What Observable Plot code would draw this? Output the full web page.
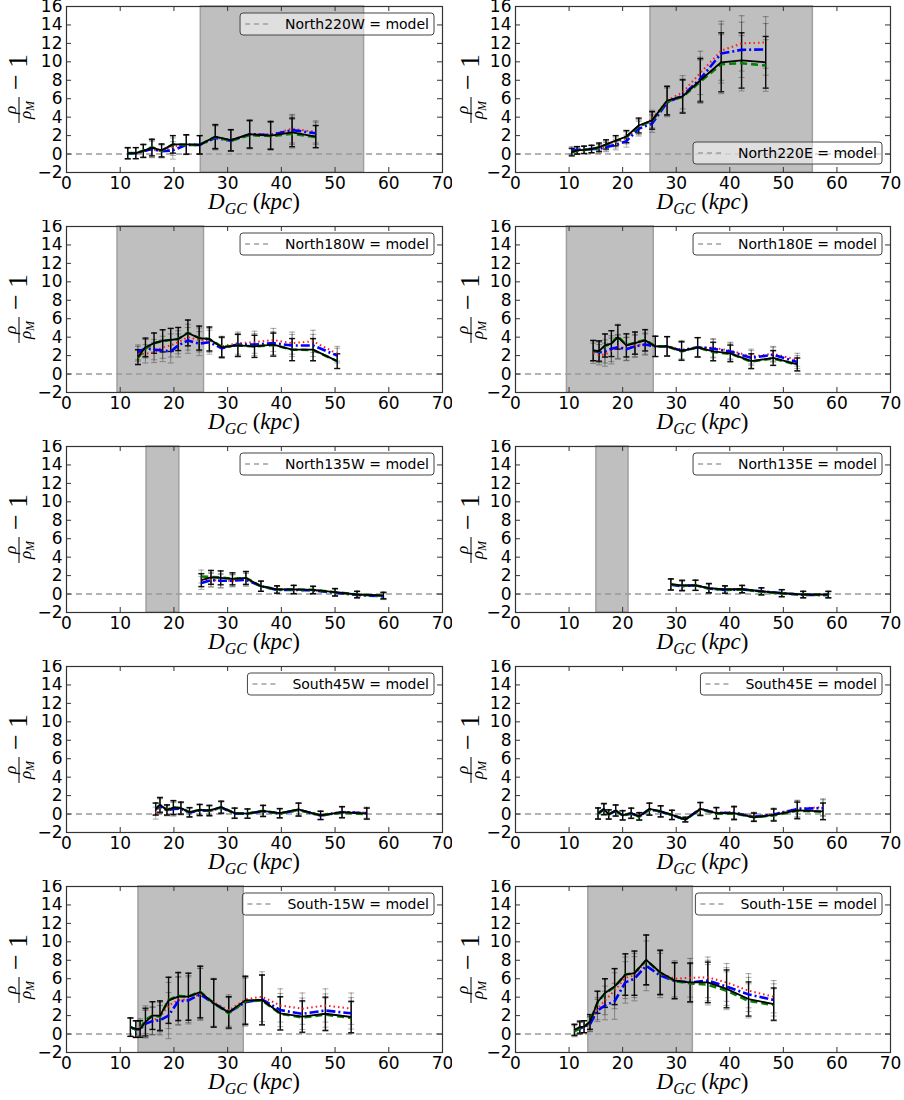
<!DOCTYPE html>
<html><head><meta charset="utf-8">
<script src="https://cdn.jsdelivr.net/npm/d3@7"></script>
<script src="https://cdn.jsdelivr.net/npm/@observablehq/plot@0.6"></script>
<style>
body{margin:0;background:#fff;}
#grid{display:grid;grid-template-columns:452px 452px;grid-auto-rows:220px;width:904px;}
#grid svg{display:block;}
</style></head><body><div id="grid"></div>
<script>
// ---- axis ticks ----
const xTicks = [0, 10, 20, 30, 40, 50, 60, 70];
const yTicks = [-2, 0, 2, 4, 6, 8, 10, 12, 14, 16];

// ---- panel names, legend placement, shaded ranges ----
const panelNames = ["North220W", "North220E", "North180W", "North180E", "North135W", "North135E", "South45W", "South45E", "South-15W", "South-15E"];
const legendPlace = ["top", "bottom", "top", "top", "top", "top", "top", "top", "top", "top"];
const shadeStart = [25, 25.2, 9.5, 9.6, 14.9, 15.1, null, null, 13.4, 13.6];
const shadeEnd = [55.4, 55.5, 25.6, 25.8, 21.0, 21.1, null, null, 33.0, 33.1];

// ---- North220W ----
const n220w_x = [11.4, 12.9, 14.3, 15.9, 17.7, 19.8, 22.3, 24.8, 27.7, 30.6, 34.1, 38.0, 42.0, 46.4];
const n220w_black = [0.1, 0.1, 0.35, 0.7, 0.4, 1.05, 1.05, 1.0, 1.9, 1.5, 2.15, 2.0, 2.35, 1.9];
const n220w_green = [0.1, 0.1, 0.35, 0.75, 0.35, 1.05, 1.0, 1.0, 1.85, 1.45, 2.05, 1.95, 2.2, 1.85];
const n220w_red = [0.05, 0.1, 0.3, 0.5, 0.3, 0.8, 1.0, 1.0, 1.8, 1.5, 2.2, 2.1, 2.75, 2.4];
const n220w_blue = [0.05, 0.1, 0.3, 0.55, 0.3, 0.4, 1.0, 1.0, 1.75, 1.45, 2.15, 2.05, 2.6, 2.25];
const n220w_err = [0.6, 0.6, 0.7, 0.9, 0.7, 0.95, 1.05, 1.0, 1.3, 1.15, 1.5, 1.5, 1.55, 1.2];

// ---- North220E ----
const n220e_x = [10.5, 11.5, 12.8, 14.2, 15.6, 16.9, 18.7, 20.7, 23.0, 25.5, 28.3, 31.2, 34.5, 38.4, 42.2, 46.7];
const n220e_black = [0.2, 0.4, 0.45, 0.55, 0.75, 1.05, 1.45, 1.9, 3.1, 3.65, 5.8, 6.25, 8.0, 9.95, 10.15, 9.95];
const n220e_green = [0.2, 0.35, 0.45, 0.55, 0.7, 1.0, 1.4, 1.85, 3.0, 3.6, 5.7, 6.2, 7.85, 9.75, 9.85, 9.6];
const n220e_red = [0.3, 0.4, 0.45, 0.5, 0.6, 0.85, 1.2, 1.75, 2.9, 3.8, 5.8, 6.7, 8.8, 11.2, 12.0, 12.1];
const n220e_blue = [0.4, 0.45, 0.5, 0.55, 0.55, 0.75, 1.0, 1.4, 2.75, 3.3, 5.6, 6.35, 8.15, 10.9, 11.3, 11.35];
const n220e_err = [0.4, 0.4, 0.4, 0.4, 0.45, 0.5, 0.55, 0.65, 0.8, 0.95, 1.55, 1.8, 2.35, 3.2, 3.0, 2.8];

// ---- North180W ----
const n180w_x = [13.3, 14.7, 16.3, 17.9, 19.4, 20.8, 22.6, 24.7, 26.6, 28.9, 31.9, 35.0, 38.5, 42.0, 45.9, 50.4];
const n180w_black = [1.85, 2.9, 3.35, 3.6, 3.7, 3.8, 4.45, 3.9, 3.8, 2.9, 3.1, 3.0, 3.2, 2.65, 2.65, 1.4];
const n180w_green = [1.75, 2.75, 3.35, 3.6, 3.7, 3.8, 4.5, 3.9, 3.8, 2.95, 3.1, 3.0, 3.15, 2.65, 2.6, 1.4];
const n180w_red = [2.2, 2.2, 2.35, 2.9, 3.1, 3.45, 4.0, 3.7, 3.65, 3.0, 3.35, 3.45, 3.7, 3.35, 3.55, 2.2];
const n180w_blue = [2.35, 2.8, 2.65, 2.55, 2.45, 3.1, 3.65, 3.3, 3.45, 2.8, 3.2, 3.2, 3.35, 3.1, 3.1, 2.0];
const n180w_err = [0.8, 1.0, 1.1, 1.2, 1.25, 1.25, 1.4, 1.3, 1.3, 1.1, 1.2, 1.2, 1.25, 1.2, 1.2, 0.8];

// ---- North180E ----
const n180e_x = [14.5, 15.6, 16.7, 17.9, 19.1, 20.7, 22.3, 24.2, 26.1, 28.3, 31.0, 34.0, 36.9, 40.1, 44.0, 48.1, 52.6];
const n180e_black = [2.55, 2.5, 3.1, 3.3, 4.0, 3.1, 3.35, 3.65, 3.0, 3.0, 2.5, 2.9, 2.45, 2.25, 1.4, 1.75, 1.05];
const n180e_green = [2.5, 2.45, 3.05, 3.3, 4.1, 3.15, 3.4, 3.7, 3.0, 3.0, 2.45, 2.9, 2.4, 2.2, 1.35, 1.7, 1.0];
const n180e_red = [2.25, 2.1, 2.1, 2.5, 3.0, 2.75, 3.1, 3.3, 3.0, 3.05, 2.65, 2.9, 2.85, 2.55, 1.9, 2.2, 1.55];
const n180e_blue = [2.55, 2.35, 2.45, 2.75, 2.9, 2.7, 3.0, 3.2, 3.0, 3.0, 2.55, 2.9, 2.75, 2.45, 1.75, 2.1, 1.3];
const n180e_err = [1.1, 1.1, 1.25, 1.4, 1.3, 1.25, 1.2, 1.15, 1.1, 1.05, 1.0, 1.05, 1.0, 0.9, 0.8, 0.8, 0.7];

// ---- North135W ----
const n135w_x = [25.1, 26.9, 28.7, 30.9, 33.4, 36.2, 39.2, 42.3, 45.9, 50.0, 54.1, 59.0];
const n135w_black = [1.5, 1.8, 1.75, 1.65, 1.75, 0.85, 0.5, 0.5, 0.45, 0.2, -0.05, -0.15];
const n135w_green = [1.9, 1.85, 1.8, 1.65, 1.75, 0.85, 0.5, 0.5, 0.45, 0.2, -0.05, -0.2];
const n135w_red = [1.55, 1.55, 1.4, 1.45, 1.6, 0.85, 0.45, 0.45, 0.4, 0.15, -0.05, -0.2];
const n135w_blue = [1.2, 1.5, 1.45, 1.45, 1.55, 0.85, 0.45, 0.45, 0.4, 0.15, -0.1, -0.25];
const n135w_err = [0.7, 0.75, 0.75, 0.65, 0.7, 0.55, 0.4, 0.45, 0.4, 0.4, 0.35, 0.35];

// ---- North135E ----
const n135e_x = [29.0, 31.1, 33.6, 36.1, 39.1, 42.3, 45.9, 49.7, 53.7, 58.4];
const n135e_black = [1.05, 0.95, 0.95, 0.65, 0.5, 0.55, 0.3, 0.1, -0.05, -0.05];
const n135e_green = [1.05, 0.9, 0.95, 0.6, 0.45, 0.5, 0.25, 0.05, -0.05, -0.1];
const n135e_red = [1.0, 0.9, 0.95, 0.6, 0.5, 0.5, 0.3, 0.1, -0.05, -0.05];
const n135e_blue = [1.0, 0.85, 0.95, 0.6, 0.45, 0.5, 0.3, 0.1, -0.1, -0.1];
const n135e_err = [0.6, 0.55, 0.55, 0.5, 0.4, 0.4, 0.38, 0.38, 0.35, 0.35];

// ---- South45W ----
const s45w_x = [16.6, 17.4, 18.7, 19.9, 21.3, 22.9, 24.8, 26.6, 28.8, 31.3, 33.7, 36.6, 39.7, 43.2, 47.3, 51.3, 55.9];
const s45w_black = [0.55, 1.0, 0.45, 0.7, 0.65, 0.2, 0.45, 0.4, 0.75, 0.1, 0.05, 0.35, 0.1, 0.5, -0.15, 0.2, 0.05];
const s45w_green = [0.55, 1.0, 0.45, 0.75, 0.65, 0.2, 0.45, 0.35, 0.75, 0.1, 0.05, 0.35, 0.05, 0.45, -0.15, 0.15, 0.0];
const s45w_red = [0.1, 0.85, 0.35, 0.55, 0.55, 0.15, 0.4, 0.3, 0.65, 0.1, 0.05, 0.3, 0.1, 0.45, -0.1, 0.25, 0.15];
const s45w_blue = [0.5, 0.9, 0.4, 0.55, 0.6, 0.15, 0.4, 0.35, 0.7, 0.05, 0.05, 0.3, 0.05, 0.45, -0.15, 0.2, 0.1];
const s45w_err = [0.65, 0.8, 0.55, 0.75, 0.65, 0.5, 0.6, 0.55, 0.65, 0.55, 0.5, 0.6, 0.5, 0.7, 0.45, 0.6, 0.6];

// ---- South45E ----
const s45e_x = [15.4, 16.5, 17.4, 18.7, 20.0, 21.6, 23.1, 25.0, 27.1, 29.2, 31.7, 34.5, 37.5, 40.8, 44.5, 48.2, 52.6, 57.4];
const s45e_black = [0.05, 0.55, -0.05, 0.4, -0.15, 0.1, -0.25, 0.55, 0.3, -0.1, -0.6, 0.55, 0.1, 0.1, -0.35, -0.1, 0.4, 0.3];
const s45e_green = [0.05, 0.5, -0.05, 0.35, -0.15, 0.05, -0.3, 0.5, 0.3, -0.1, -0.6, 0.5, 0.05, 0.05, -0.35, -0.15, 0.35, 0.25];
const s45e_red = [0.1, 0.5, 0.0, 0.35, -0.1, 0.1, -0.2, 0.5, 0.3, -0.05, -0.6, 0.6, 0.15, 0.2, -0.25, 0.0, 0.6, 0.75];
const s45e_blue = [0.1, 0.5, -0.05, 0.35, -0.1, 0.05, -0.25, 0.5, 0.25, -0.1, -0.6, 0.55, 0.1, 0.15, -0.3, -0.05, 0.55, 0.65];
const s45e_err = [0.6, 0.6, 0.5, 0.6, 0.5, 0.55, 0.4, 0.65, 0.6, 0.5, 0.25, 0.7, 0.6, 0.7, 0.45, 0.65, 0.9, 0.9];

// ---- South-15W ----
const s15w_x = [11.9, 12.9, 13.7, 14.7, 16.0, 17.4, 19.0, 20.8, 22.7, 24.9, 27.4, 30.2, 33.3, 36.4, 39.8, 43.9, 48.2, 53.0];
const s15w_black = [0.75, 0.55, 0.55, 1.3, 2.0, 2.0, 3.65, 4.05, 4.05, 4.55, 3.35, 2.35, 3.65, 3.7, 2.25, 1.9, 2.2, 1.85];
const s15w_green = [0.75, 0.5, 0.55, 1.55, 2.0, 1.9, 3.7, 4.15, 4.05, 4.6, 3.35, 2.25, 3.55, 3.65, 2.2, 1.8, 2.1, 1.75];
const s15w_red = [0.75, 0.55, 0.75, 1.1, 1.45, 1.85, 3.1, 3.65, 3.8, 4.35, 3.45, 2.55, 3.75, 4.05, 3.1, 2.75, 3.1, 2.75];
const s15w_blue = [0.75, 0.5, 0.55, 1.1, 1.4, 1.5, 2.0, 3.55, 3.65, 4.3, 3.35, 2.35, 3.45, 3.75, 2.6, 2.2, 2.55, 2.25];
const s15w_err = [1.0, 0.9, 0.9, 1.5, 1.5, 1.6, 2.5, 2.6, 2.55, 2.8, 2.6, 1.7, 2.6, 2.7, 1.8, 1.7, 1.8, 1.7];

// ---- South-15E ----
const s15e_x = [11.0, 12.0, 12.8, 13.9, 15.3, 16.7, 18.5, 20.5, 22.2, 24.4, 27.0, 29.7, 32.6, 35.9, 39.4, 43.5, 48.2];
const s15e_black = [0.45, 0.75, 0.8, 1.3, 3.45, 4.45, 5.15, 6.45, 6.6, 8.05, 6.7, 5.8, 5.6, 5.6, 4.9, 3.8, 3.25];
const s15e_green = [0.3, 0.6, 0.8, 1.35, 3.4, 4.4, 5.1, 6.45, 6.6, 8.0, 6.65, 5.75, 5.5, 5.35, 4.7, 3.6, 3.15];
const s15e_red = [0.5, 0.75, 0.8, 1.1, 2.75, 3.65, 4.7, 6.1, 6.35, 8.0, 6.6, 6.0, 6.1, 6.15, 5.6, 4.7, 4.05];
const s15e_blue = [0.4, 0.6, 0.8, 1.05, 2.55, 3.1, 3.55, 5.6, 6.0, 7.4, 6.35, 5.75, 5.6, 5.8, 5.15, 4.3, 3.7];
const s15e_err = [0.6, 0.65, 0.65, 0.8, 1.2, 1.55, 1.95, 2.25, 2.4, 2.7, 2.4, 1.95, 2.1, 2.2, 2.05, 1.85, 1.75];

const panelData = [
  [n220w_x, n220w_black, n220w_green, n220w_red, n220w_blue, n220w_err],
  [n220e_x, n220e_black, n220e_green, n220e_red, n220e_blue, n220e_err],
  [n180w_x, n180w_black, n180w_green, n180w_red, n180w_blue, n180w_err],
  [n180e_x, n180e_black, n180e_green, n180e_red, n180e_blue, n180e_err],
  [n135w_x, n135w_black, n135w_green, n135w_red, n135w_blue, n135w_err],
  [n135e_x, n135e_black, n135e_green, n135e_red, n135e_blue, n135e_err],
  [s45w_x, s45w_black, s45w_green, s45w_red, s45w_blue, s45w_err],
  [s45e_x, s45e_black, s45e_green, s45e_red, s45e_blue, s45e_err],
  [s15w_x, s15w_black, s15w_green, s15w_red, s15w_blue, s15w_err],
  [s15e_x, s15e_black, s15e_green, s15e_red, s15e_blue, s15e_err]
];

const seriesStyle = [
  {key: "red", stroke: "#ff1a1a", width: 2, dash: "1.5,3"},
  {key: "blue", stroke: "#0000ff", width: 2.6, dash: "9,3,2,3"},
  {key: "green", stroke: "#007f00", width: 2.6, dash: "7,4"},
  {key: "black", stroke: "#000000", width: 1.8, dash: null}
];

const capSymbol = {draw(ctx) { ctx.moveTo(-3, 0); ctx.lineTo(3, 0); }};

const grid = document.getElementById("grid");

panelData.forEach((pd, i) => {
  const col = i % 2;
  const W = 452, H = 220, mt = 6, mb = 48;
  const ml = col === 0 ? 66 : 63, mr = col === 0 ? 10 : 14;
  const iw = W - ml - mr, ih = H - mt - mb;
  const [xs, blk, grn, red, blu, err] = pd;
  const rows = xs.map((x, j) => ({x, black: blk[j], green: grn[j], red: red[j], blue: blu[j], err: err[j]}));

  const marks = [];
  if (shadeStart[i] != null) {
    marks.push(Plot.rect([{a: shadeStart[i], b: shadeEnd[i]}], {x1: "a", x2: "b", fill: "#bfbfbf", stroke: "#a0a0a0", strokeWidth: 1.5}));
  }
  marks.push(Plot.ruleY([0], {stroke: "#9a9a9a", strokeWidth: 1.4, strokeDasharray: "6,4"}));
  // error bars
  for (const s of seriesStyle) {
    const isBlack = s.key === "black";
    const eo = isBlack ? 0.9 : 0.3;
    const ew = isBlack ? 1.4 : 1.1;
    marks.push(Plot.ruleX(rows, {x: "x", y1: d => d[s.key] - d.err, y2: d => d[s.key] + d.err, stroke: "#000", strokeOpacity: eo, strokeWidth: ew}));
    marks.push(Plot.dot(rows, {x: "x", y: d => d[s.key] - d.err, symbol: capSymbol, fill: "none", stroke: "#000", strokeOpacity: eo, strokeWidth: ew}));
    marks.push(Plot.dot(rows, {x: "x", y: d => d[s.key] + d.err, symbol: capSymbol, fill: "none", stroke: "#000", strokeOpacity: eo, strokeWidth: ew}));
  }
  for (const s of seriesStyle) {
    marks.push(Plot.line(rows, {x: "x", y: s.key, stroke: s.stroke, strokeWidth: s.width, strokeDasharray: s.dash, strokeLinecap: "butt"}));
  }
  marks.push(Plot.frame({stroke: "#333", strokeWidth: 1.2}));
  marks.push(Plot.tickY(yTicks, {y: d => d, insetRight: iw - 5, stroke: "#333"}));
  marks.push(Plot.tickY(yTicks, {y: d => d, insetLeft: iw - 5, stroke: "#333"}));
  marks.push(Plot.tickX(xTicks, {x: d => d, insetTop: ih - 5, stroke: "#333"}));
  marks.push(Plot.tickX(xTicks, {x: d => d, insetBottom: ih - 5, stroke: "#333"}));
  marks.push(Plot.axisX(xTicks, {tickSize: 0, tickPadding: 4, label: null}));
  marks.push(Plot.axisY(yTicks, {tickSize: 0, tickPadding: 4, label: null}));

  const chart = Plot.plot({
    width: W, height: H,
    marginLeft: ml, marginRight: mr, marginTop: mt, marginBottom: mb,
    x: {domain: [0, 70]},
    y: {domain: [-2, 16]},
    style: {fontFamily: "DejaVu Sans", fontSize: "17px", color: "#000", background: "#fff"},
    marks
  });
  grid.appendChild(chart);

  const svg = d3.select(chart);
  // x label
  const xl = svg.append("text").attr("x", ml + iw / 2).attr("y", H - 11)
    .attr("text-anchor", "middle").attr("font-family", "Liberation Serif")
    .attr("font-size", 23).attr("fill", "#000");
  xl.append("tspan").attr("font-style", "italic").text("D");
  xl.append("tspan").attr("font-style", "italic").attr("font-size", 16).attr("dy", 5).text("GC");
  xl.append("tspan").attr("dy", -5).text(" (");
  xl.append("tspan").attr("font-style", "italic").text("kpc");
  xl.append("tspan").text(")");

  // y label
  const g = svg.append("g").attr("transform", `translate(19,${mt + ih / 2}) rotate(-90)`)
    .attr("font-family", "Liberation Serif").attr("fill", "#000");
  g.append("text").attr("x", -21).attr("y", -3).attr("text-anchor", "middle")
    .attr("font-size", 17).attr("font-style", "italic").text("ρ");
  g.append("line").attr("x1", -34).attr("x2", -8).attr("y1", 0).attr("y2", 0)
    .attr("stroke", "#000").attr("stroke-width", 1);
  const den = g.append("text").attr("x", -21).attr("y", 12).attr("text-anchor", "middle")
    .attr("font-size", 17).attr("font-style", "italic");
  den.append("tspan").text("ρ");
  den.append("tspan").attr("font-size", 12).attr("dy", 3).text("M");
  g.append("text").attr("x", 7).attr("y", 6).attr("text-anchor", "middle").attr("font-size", 28).text("−");
  g.append("text").attr("x", 28).attr("y", 8).attr("text-anchor", "middle").attr("font-size", 28).text("1");

  // legend
  const lg = svg.append("g");
  const box = lg.append("rect");
  const samp = lg.append("line");
  const txt = lg.append("text").attr("font-family", "DejaVu Sans").attr("font-size", 14)
    .attr("fill", "#000").text(panelNames[i] + " = model");
  const tw = txt.node().getComputedTextLength();
  const bw = tw + 50, bh = 22;
  const bx = ml + iw - 8 - bw;
  const by = legendPlace[i] === "top" ? mt + 7 : mt + ih - 8 - bh;
  box.attr("x", bx).attr("y", by).attr("width", bw).attr("height", bh).attr("rx", 3)
    .attr("fill", "#fff").attr("fill-opacity", 0.5).attr("stroke", "#444").attr("stroke-width", 1);
  samp.attr("x1", bx + 5).attr("x2", bx + 32).attr("y1", by + 11).attr("y2", by + 11)
    .attr("stroke", "#a0a0a0").attr("stroke-width", 1.4).attr("stroke-dasharray", "5,4");
  txt.attr("x", bx + bw - 5).attr("y", by + 16).attr("text-anchor", "end");
});
</script>
</body></html>
